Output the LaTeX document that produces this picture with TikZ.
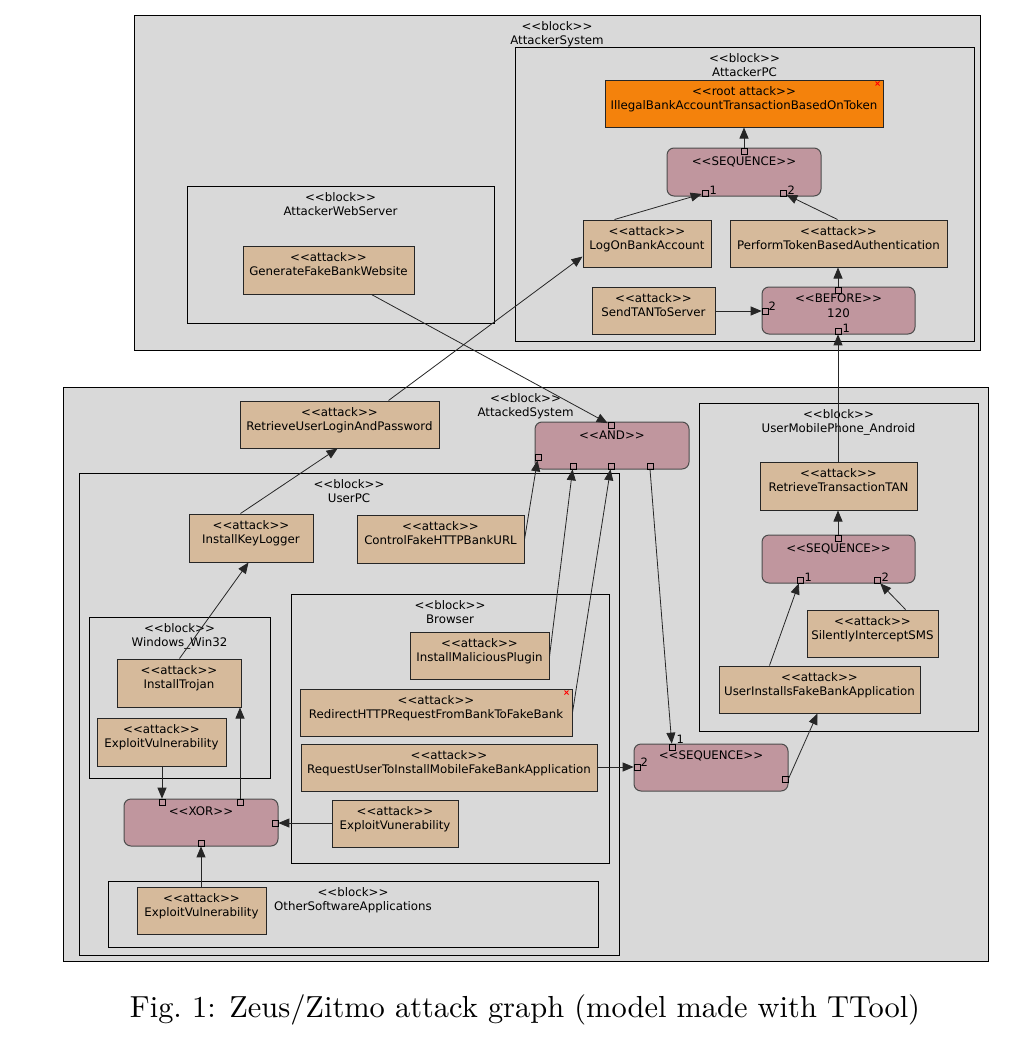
\documentclass[tikz,border=0pt]{standalone}
\usepackage{fontspec}
\newfontfamily\djfont{DejaVu Sans}
\usetikzlibrary{arrows.meta,calc,fit}
\definecolor{blockgray}{RGB}{217,217,217}
\definecolor{attacktan}{RGB}{214,186,155}
\definecolor{opmauve}{RGB}{192,150,158}
\definecolor{rootorange}{RGB}{244,130,12}
\tikzset{
  blockbox/.style={draw=black, fill=blockgray, line width=0.9pt, inner sep=0pt},
  attackbox/.style={draw=black!85, fill=attacktan, line width=1pt, inner sep=0pt},
  rootbox/.style={attackbox, fill=rootorange},
  opbox/.style={draw=black!70, fill=opmauve, line width=1pt, rounded corners=7pt, inner sep=0pt},
  port/.style={draw=black, line width=0.7pt, minimum size=6pt, inner sep=0pt},
  lbl/.style={font=\djfont\fontsize{11.8}{14.7}\selectfont, align=center, inner sep=0pt, anchor=north},
  plbl/.style={font=\djfont\fontsize{11.5}{12}\selectfont, inner sep=0pt, anchor=west},
  arr/.style={draw=black!85, line width=0.8pt, -{Triangle[length=11pt,width=9pt]}},
  redx/.style={draw=red, line width=0.8pt},
}
\newcommand\mkblock[6]{%
  \node[blockbox, fit={(#2,#3)(#4,#5)}] (#1) {};
  \node[lbl] at ($(#1.north)+(0,6.5)$) {<<block>>\\#6};}
\newcommand\mkattack[7]{%
  \node[#2, fit={(#3,#4)(#5,#6)}] (#1) {};
  \node[lbl] at ($(#1.north)+(0,6.5)$) {#7};}
\newcommand\mkop[7]{%
  \node[opbox, fit={(#2,#3)(#4,#5)}] (#1) {};
  \node[lbl] at ($(#1.north)+(0,#6)$) {#7};}
\begin{document}
\begin{tikzpicture}[x=1pt,y=-1pt]
\fill[white] (0,0) rectangle (1029,1041);
\useasboundingbox (0,0) rectangle (1029,1041);

% ---------- Attacker system ----------
\mkblock{asys}{134}{15}{980}{350}{AttackerSystem}
\mkblock{apc}{515}{47}{974}{341}{AttackerPC}
\mkblock{aweb}{187}{186}{494}{323}{AttackerWebServer}

\mkattack{root}{rootbox}{605}{80}{883}{127}{<<root attack>>\\IllegalBankAccountTransactionBasedOnToken}
\draw[redx] ($(root.north east)+(-8,2)$) -- ($(root.north east)+(-4,6)$)
            ($(root.north east)+(-8,6)$) -- ($(root.north east)+(-4,2)$);
\mkop{st}{667}{148}{821}{196}{9.5}{<<SEQUENCE>>}
\mkattack{logon}{attackbox}{583}{220}{711}{267}{<<attack>>\\LogOnBankAccount}
\mkattack{perform}{attackbox}{730}{220}{947}{267}{<<attack>>\\PerformTokenBasedAuthentication}
\mkattack{sendtan}{attackbox}{592}{287}{715}{334}{<<attack>>\\SendTANToServer}
\mkop{bf}{762}{287}{915}{334}{7.5}{<<BEFORE>>\\120}
\mkattack{genweb}{attackbox}{243}{246}{414}{294}{<<attack>>\\GenerateFakeBankWebsite}

% ---------- Attacked system ----------
\mkblock{dsys}{63}{387}{988}{961}{AttackedSystem}
\mkblock{upc}{79}{473}{619}{955}{UserPC}
\mkblock{mob}{699}{403}{978}{731}{UserMobilePhone\_Android}
\mkblock{win}{89}{617}{270}{778}{Windows\_Win32}
\mkblock{brw}{291}{594}{609}{863}{Browser}
\mkblock{oth}{108}{881}{598}{947}{OtherSoftwareApplications}

\mkattack{ruser}{attackbox}{240}{401}{439}{448}{<<attack>>\\RetrieveUserLoginAndPassword}
\mkop{and}{535}{422}{689}{469}{9.5}{<<AND>>}
\mkattack{keylog}{attackbox}{189}{514}{313}{562}{<<attack>>\\InstallKeyLogger}
\mkattack{control}{attackbox}{357}{515}{524}{563}{<<attack>>\\ControlFakeHTTPBankURL}
\mkattack{trojan}{attackbox}{117}{659}{241}{707}{<<attack>>\\InstallTrojan}
\mkattack{exwin}{attackbox}{97}{718}{226}{766}{<<attack>>\\ExploitVulnerability}
\mkop{xor}{124}{799}{278}{846}{8.5}{<<XOR>>}
\mkattack{plugin}{attackbox}{410}{632}{549}{679}{<<attack>>\\InstallMaliciousPlugin}
\mkattack{redirect}{attackbox}{300}{689}{572}{736}{<<attack>>\\RedirectHTTPRequestFromBankToFakeBank}
\draw[redx] ($(redirect.north east)+(-8,2)$) -- ($(redirect.north east)+(-4,6)$)
            ($(redirect.north east)+(-8,6)$) -- ($(redirect.north east)+(-4,2)$);
\mkattack{requser}{attackbox}{301}{744}{597}{791}{<<attack>>\\RequestUserToInstallMobileFakeBankApplication}
\mkattack{exbr}{attackbox}{332}{800}{458}{847}{<<attack>>\\ExploitVunerability}
\mkattack{exoth}{attackbox}{137}{887}{266}{934}{<<attack>>\\ExploitVulnerability}
\mkop{sb}{634}{744}{788}{791}{7.5}{<<SEQUENCE>>}
\mkattack{rtan}{attackbox}{760}{462}{917}{510}{<<attack>>\\RetrieveTransactionTAN}
\mkop{sm}{762}{535}{915}{583}{9.5}{<<SEQUENCE>>}
\mkattack{silent}{attackbox}{807}{610}{938}{657}{<<attack>>\\SilentlyInterceptSMS}
\mkattack{uinst}{attackbox}{719}{666}{920}{713}{<<attack>>\\UserInstallsFakeBankApplication}

% ---------- ports ----------
\node[port] (st-t) at (744,151) {};
\node[port] (st-1) at (705,193) {};
\node[port] (st-2) at (783,193) {};
\node[port] (bf-t) at (838,290) {};
\node[port] (bf-l) at (765,311) {};
\node[port] (bf-b) at (838,331) {};
\node[port] (and-t) at (611,425) {};
\node[port] (and-l) at (538,457) {};
\node[port] (and-1) at (573,466) {};
\node[port] (and-2) at (611,466) {};
\node[port] (and-3) at (650,466) {};
\node[port] (xor-1) at (162,802) {};
\node[port] (xor-2) at (240,802) {};
\node[port] (xor-r) at (275,823) {};
\node[port] (xor-b) at (201,843) {};
\node[port] (sb-t) at (672,747) {};
\node[port] (sb-l) at (637,767) {};
\node[port] (sb-r) at (785,779) {};
\node[port] (sm-t) at (838,538) {};
\node[port] (sm-1) at (800,580) {};
\node[port] (sm-2) at (877,580) {};

\node[plbl] at ($(st-1.east)+(1,-3)$) {1};
\node[plbl] at ($(st-2.east)+(1,-3)$) {2};
\node[plbl] at ($(bf-l.east)+(0,-5)$) {2};
\node[plbl] at ($(bf-b.east)+(1,-3)$) {1};
\node[plbl] at ($(sb-t.east)+(1,-8)$) {1};
\node[plbl] at ($(sb-l.east)+(0,-5)$) {2};
\node[plbl] at ($(sm-1.east)+(1,-3)$) {1};
\node[plbl] at ($(sm-2.east)+(1,-3)$) {2};

% ---------- connectors ----------
\draw[arr] (st-t.north) -- (root.south -| st-t);
\draw[arr] ($(logon.north west)+(32,0)$) -- (st-1);
\draw[arr] ($(perform.north west)+(108,0)$) -- (st-2);
\draw[arr] (sendtan.east |- bf-l) -- (bf-l);
\draw[arr] (bf-t.north) -- (perform.south -| bf-t);
\draw[arr] (rtan.north -| bf-b) -- (bf-b);
\draw[arr] ($(genweb.south west)+(129,0)$) -- (and-t);
\draw[arr] ($(ruser.north west)+(149,0)$) -- ($(logon.north west)+(0,37)$);
\draw[arr] ($(keylog.north west)+(52,0)$) -- ($(ruser.south west)+(98,0)$);
\draw[arr] ($(control.north east)+(0,25)$) -- (and-l);
\draw[arr] ($(plugin.north east)+(0,25)$) -- (and-1);
\draw[arr] ($(redirect.north east)+(0,24)$) -- (and-2);
\draw[arr] (and-3.south) -- (sb-t);
\draw[arr] ($(trojan.north west)+(63,0)$) -- ($(keylog.south west)+(60,0)$);
\draw[arr] (exwin.south -| xor-1) -- (xor-1);
\draw[arr] (xor-2.north) -- (trojan.south -| xor-2);
\draw[arr] (exbr.west |- xor-r) -- (xor-r);
\draw[arr] (exoth.north -| xor-b) -- (xor-b);
\draw[arr] (requser.east |- sb-l) -- (sb-l);
\draw[arr] (sb-r.east) -- ($(uinst.south west)+(99,0)$);
\draw[arr] ($(uinst.north west)+(51,0)$) -- (sm-1);
\draw[arr] ($(silent.north west)+(99,0)$) -- (sm-2);
\draw[arr] (sm-t.north) -- (rtan.south -| sm-t);

% ---------- caption ----------
\node[inner sep=0pt] (cap) at (525,1010) {\resizebox{790pt}{!}{Fig.~1: Zeus/Zitmo attack graph (model made with TTool)}};
\end{tikzpicture}
\end{document}
